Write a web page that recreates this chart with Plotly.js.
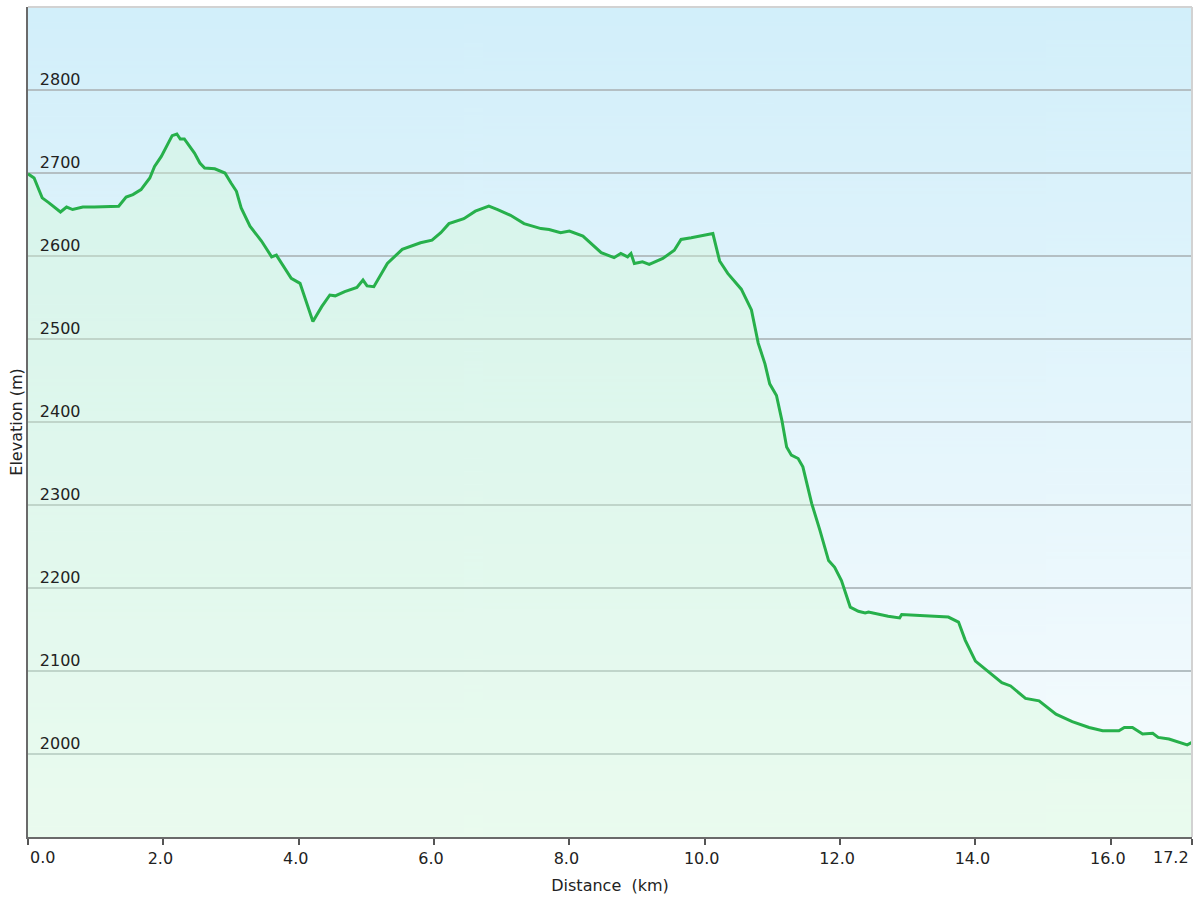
<!DOCTYPE html>
<html>
<head>
<meta charset="utf-8">
<script src="https://cdn.plot.ly/plotly-3.0.1.min.js"></script>
<style>html,body{margin:0;padding:0;background:#fff;}#chart{width:1200px;height:900px;}</style>
</head>
<body>
<div id="chart"></div>
<script>
// Distance along the route (km)
const distanceKm = [0.00,0.09,0.17,0.21,0.31,0.39,0.48,0.57,0.66,0.81,0.98,1.34,1.45,1.55,1.67,1.80,1.87,1.97,2.13,2.20,2.25,2.31,2.46,2.54,2.61,2.76,2.91,3.00,3.08,3.15,3.28,3.45,3.60,3.67,3.89,4.02,4.21,4.34,4.46,4.54,4.68,4.86,4.95,5.01,5.11,5.31,5.53,5.80,5.97,6.10,6.22,6.44,6.61,6.81,6.94,7.13,7.33,7.58,7.70,7.87,8.00,8.20,8.47,8.66,8.76,8.86,8.91,8.96,9.08,9.18,9.38,9.55,9.65,9.80,9.92,10.12,10.22,10.34,10.54,10.69,10.79,10.89,10.96,11.06,11.14,11.21,11.28,11.38,11.45,11.58,11.70,11.83,11.92,12.02,12.15,12.27,12.37,12.42,12.71,12.88,12.91,13.60,13.75,13.85,14.00,14.15,14.39,14.52,14.74,14.94,15.19,15.43,15.68,15.88,16.12,16.20,16.32,16.47,16.62,16.70,16.86,17.13,17.20];
// Elevation (m)
const elevationM = [2699,2694,2678,2670,2664,2659,2653,2659,2656,2659,2659,2660,2671,2674,2680,2694,2708,2720,2745,2747,2741,2741,2724,2712,2706,2705,2700,2688,2678,2658,2636,2618,2599,2601,2573,2567,2521,2539,2553,2552,2557,2562,2571,2564,2563,2591,2608,2616,2619,2628,2639,2645,2654,2660,2656,2649,2639,2633,2632,2628,2630,2624,2604,2598,2603,2599,2603,2591,2593,2590,2597,2607,2620,2622,2624,2627,2594,2579,2560,2535,2495,2470,2446,2432,2402,2370,2360,2356,2346,2302,2270,2233,2225,2209,2177,2172,2170,2171,2166,2164,2168,2165,2159,2137,2112,2102,2086,2082,2067,2064,2048,2039,2032,2028,2028,2032,2032,2024,2025,2020,2018,2011,2014];

const xTickVals = [0, 2, 4, 6, 8, 10, 12, 14, 16, 17.2];
const xTickLabels = ["0.0","2.0","4.0","6.0","8.0","10.0","12.0","14.0","16.0","17.2"];
const yTickVals = [2000, 2100, 2200, 2300, 2400, 2500, 2600, 2700, 2800];
const yTickLabels = ["2000","2100","2200","2300","2400","2500","2600","2700","2800"];

const FONT = "DejaVu Sans, Verdana, sans-serif";
const FS = 16;
const TXT = '#222222';

// The end labels sit beside their tick (left-aligned at start, right-aligned at end),
// so they are drawn as annotations anchored at the tick positions.
const lastIdx = xTickLabels.length - 1;
const xTickText = xTickLabels.map((t, i) => (i === 0 || i === lastIdx) ? '' : t);
const endLabelAnnotations = [
  {x: xTickVals[0], text: xTickLabels[0], xanchor: 'left', xshift: 0},
  {x: xTickVals[lastIdx], text: xTickLabels[lastIdx], xanchor: 'right', xshift: -1}
].map(a => Object.assign({
  xref: 'x', yref: 'paper', y: 0, yanchor: 'top', yshift: -9,
  showarrow: false, font: {family: FONT, size: FS, color: TXT}
}, a));

// vertical gradient image for the plot background
function gradientURL(top, bottom) {
  const c = document.createElement('canvas');
  c.width = 4; c.height = 512;
  const g = c.getContext('2d');
  const gr = g.createLinearGradient(0, 0, 0, 512);
  gr.addColorStop(0, top);
  gr.addColorStop(1, bottom);
  g.fillStyle = gr;
  g.fillRect(0, 0, 4, 512);
  return c.toDataURL('image/png');
}

const trace = {
  x: distanceKm,
  y: elevationM,
  type: 'scatter',
  mode: 'lines',
  line: {color: '#27b04b', width: 3},
  fill: 'tozeroy',
  fillcolor: 'rgba(214,250,214,0.38)',
  hoverinfo: 'x+y'
};

const layout = {
  width: 1200,
  height: 900,
  margin: {l: 28, r: 8, t: 7, b: 63},
  paper_bgcolor: '#ffffff',
  plot_bgcolor: 'rgba(0,0,0,0)',
  showlegend: false,
  font: {family: FONT, size: FS, color: TXT},
  xaxis: {
    range: [0, 17.2],
    tickmode: 'array',
    tickvals: xTickVals,
    ticktext: xTickText,
    ticks: 'outside',
    ticklen: 6,
    tickwidth: 2,
    tickcolor: '#555555',
    ticklabelshift: -3,
    showgrid: false,
    zeroline: false,
    showline: true,
    linecolor: '#6a6a6a',
    linewidth: 2,
    tickfont: {family: FONT, size: FS, color: TXT},
    title: {text: 'Distance\u00a0\u00a0(km)', font: {family: FONT, size: FS, color: TXT}, standoff: 13}
  },
  yaxis: {
    range: [1900, 2900],
    tickmode: 'array',
    tickvals: yTickVals,
    ticktext: yTickLabels,
    ticks: '',
    ticklabelposition: 'inside',
    ticklabelshift: -11,
    ticklabelstandoff: 12,
    ticklabeloverflow: 'allow',
    showgrid: true,
    gridcolor: '#b4bfc3',
    gridwidth: 1.6,
    zeroline: false,
    showline: true,
    linecolor: '#6a6a6a',
    linewidth: 2,
    tickfont: {family: FONT, size: FS, color: TXT},
    title: {text: 'Elevation (m)', font: {family: FONT, size: FS, color: TXT}, standoff: 13}
  },
  annotations: endLabelAnnotations,
  images: [{
    source: gradientURL('#d2effa', '#f7fcfe'),
    xref: 'paper', yref: 'paper',
    x: 0, y: 1, sizex: 1, sizey: 1,
    xanchor: 'left', yanchor: 'top',
    sizing: 'stretch',
    layer: 'below'
  }],
  shapes: [
    {type: 'line', xref: 'paper', yref: 'paper', x0: 0, x1: 1, y0: 1, y1: 1, line: {color: '#d2d2d2', width: 2}},
    {type: 'line', xref: 'paper', yref: 'paper', x0: 1, x1: 1, y0: 0, y1: 1, line: {color: '#d2d2d2', width: 2}}
  ]
};

Plotly.newPlot('chart', [trace], layout, {displayModeBar: false, staticPlot: true});
</script>
</body>
</html>
